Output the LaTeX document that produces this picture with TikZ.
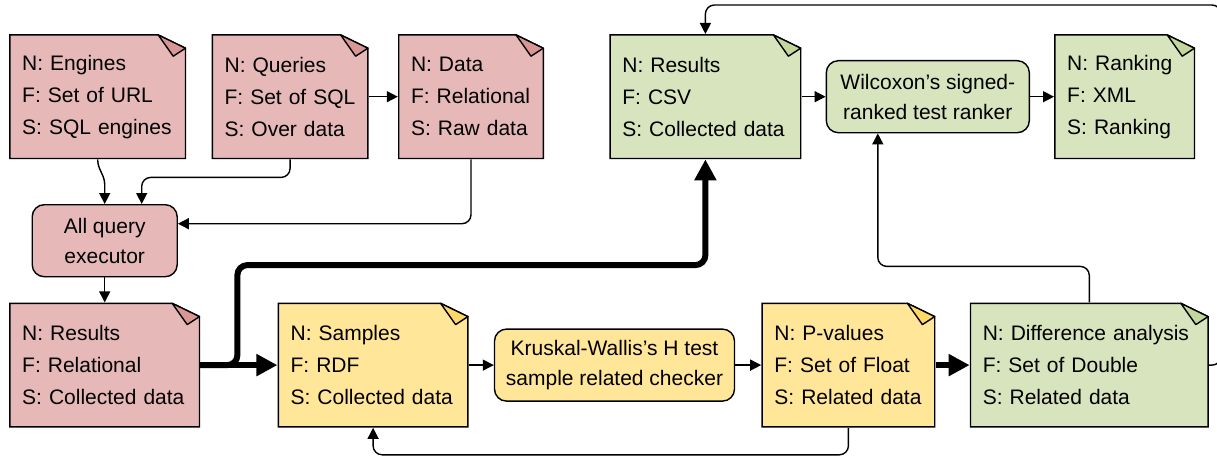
\documentclass[tikz,border=0pt]{standalone}
\usepackage{fontspec}
\setmainfont{Liberation Sans}
\usepackage{xcolor}
\definecolor{redFill}{HTML}{E6B9B8}
\definecolor{redFold}{HTML}{D99694}
\definecolor{greenFill}{HTML}{D7E4BD}
\definecolor{greenFold}{HTML}{C3D69B}
\definecolor{yellowFill}{HTML}{FFE699}
\definecolor{yellowFold}{HTML}{FFD966}
\usetikzlibrary{positioning,calc,arrows.meta}
\tikzset{%
  noteBox/.style 2 args={%
    rectangle,
    fill=white,
    inner xsep=13pt,
    inner ysep=0pt,
    minimum height=125pt,
    align=left,
    path picture={%
      \draw[line width=1.4pt, fill=#1]
        ([shift={(0.7pt,-0.7pt)}]path picture bounding box.north west)
        -- ([shift={(-28pt,-0.7pt)}]path picture bounding box.north east)
        -- ([shift={(-0.7pt,-14pt)}]path picture bounding box.north east)
        -- ([shift={(-0.7pt,0.7pt)}]path picture bounding box.south east)
        -- ([shift={(0.7pt,0.7pt)}]path picture bounding box.south west)
        -- cycle;
      \draw[line width=1.4pt, fill=#2, line join=round]
        ([shift={(-28pt,-0.7pt)}]path picture bounding box.north east)
        -- ([shift={(-0.7pt,-14pt)}]path picture bounding box.north east)
        -- ([shift={(-13pt,-22pt)}]path picture bounding box.north east)
        -- cycle;
    }
  },
  procBox/.style={%
    rectangle,
    rounded corners=12pt,
    draw,
    line width=1.4pt,
    fill=#1,
    align=center,
    minimum height=72pt,
    font=\fontsize{21pt}{30pt}\selectfont
  },
  arrowLine/.style={%
    -{Triangle[length=11pt,width=11pt]},
    line width=1.4pt,
    rounded corners=9pt
  },
  boldLine/.style={%
    -{Triangle[length=21pt,width=21pt]},
    line width=6pt,
    rounded corners=10pt
  }
}

\begin{document}
\begin{tikzpicture}[font=\fontsize{21pt}{32pt}\selectfont]
  \useasboundingbox (0,0) rectangle (1217pt,-460pt);

  % top row
  \node[noteBox={redFill}{redFold}, text width=151pt, anchor=north west] (engines) at (9pt,-34pt)
    {N: Engines\\F: Set of URL\\S: SQL engines};
  \node[noteBox={redFill}{redFold}, text width=131pt, right=25pt of engines] (queries)
    {N: Queries\\F: Set of SQL\\S: Over data};
  \node[noteBox={redFill}{redFold}, text width=120pt, right=29pt of queries] (data)
    {N: Data\\F: Relational\\S: Raw data};
  \node[noteBox={greenFill}{greenFold}, text width=166pt, right=65pt of data] (resG)
    {N: Results\\F: CSV\\S: Collected data};
  \node[procBox=greenFill, minimum width=203pt, right=24pt of resG] (wilcox)
    {Wilcoxon’s signed-\\ranked test ranker};
  \node[noteBox={greenFill}{greenFold}, text width=115pt, right=24pt of wilcox] (ranking)
    {N: Ranking\\F: XML\\S: Ranking};

  % bottom row
  \node[noteBox={redFill}{redFold}, text width=165pt, below right=143pt and 0pt of engines.south west] (resR)
    {N: Results\\F: Relational\\S: Collected data};
  \node[procBox=redFill, minimum width=145pt, above=25pt of resR] (allq)
    {All query\\executor};
  \node[noteBox={yellowFill}{yellowFold}, text width=165pt, right=77pt of resR] (samples)
    {N: Samples\\F: RDF\\S: Collected data};
  \node[procBox=yellowFill, minimum width=240pt, right=25pt of samples] (kruskal)
    {Kruskal-Wallis’s H test\\sample related checker};
  \node[noteBox={yellowFill}{yellowFold}, text width=148pt, right=26pt of kruskal] (pvalues)
    {N: P-values\\F: Set of Float\\S: Related data};
  \node[noteBox={greenFill}{greenFold}, text width=213pt, right=34pt of pvalues] (diff)
    {N: Difference analysis\\F: Set of Double\\S: Related data};

  % connectors
  \draw[arrowLine, rounded corners=4pt] (engines.south) -- ++(0,-5pt) -- ([yshift=24pt]allq.north) -- (allq.north);
  \draw[arrowLine] (queries.south) -- ++(0,-18pt) -| ([xshift=37pt]allq.north);
  \draw[arrowLine] (queries) -- (data);
  \draw[arrowLine] (data.south) |- ([yshift=17pt]allq.east);
  \draw[arrowLine] (allq) -- (resR);
  \draw[boldLine] (resR) -- (samples);
  \draw[boldLine] (resR.east) -- ++(37pt,0) -- ++(0,100pt) -| (resG.south);
  \draw[arrowLine] (samples) -- (kruskal);
  \draw[arrowLine] (kruskal) -- (pvalues);
  \draw[boldLine] (pvalues) -- (diff);
  \draw[arrowLine] (pvalues.south) -- ++(0,-27pt) -| (samples.south);
  \draw[arrowLine] (diff.north) -- ++(0,36pt) -| ([xshift=-50pt]wilcox.south);
  \draw[arrowLine] (resG) -- (wilcox);
  \draw[arrowLine] (wilcox) -- (ranking);
  \draw[arrowLine] (diff.east) -- ++(12pt,0) |- ([yshift=29pt]resG.north) -- (resG.north);
\end{tikzpicture}
\end{document}
